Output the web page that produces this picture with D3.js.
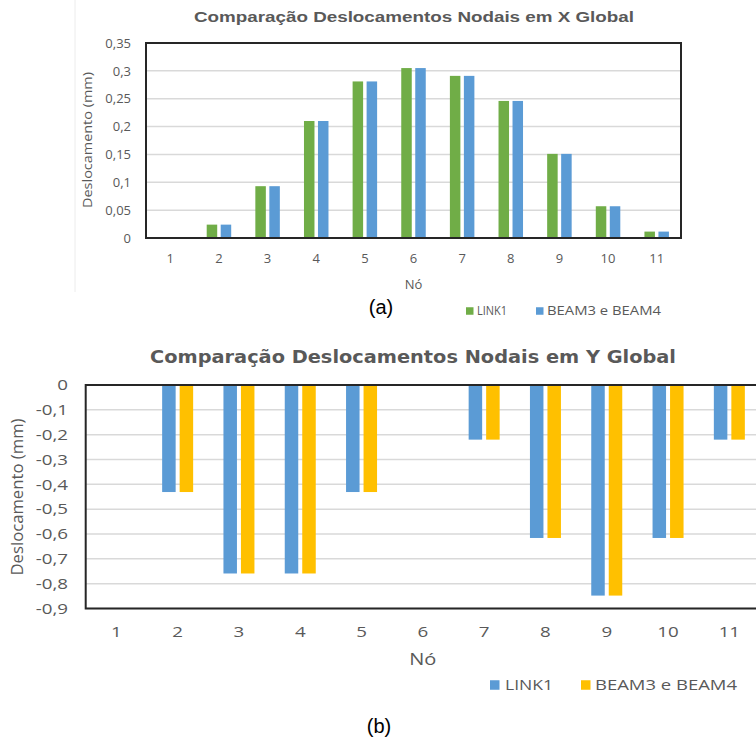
<!DOCTYPE html>
<html>
<head>
<meta charset="utf-8">
<script src="https://cdn.jsdelivr.net/npm/d3@7"></script>
<style>
  html, body { margin: 0; padding: 0; background: #fff; }
  svg { display: block; }
  text { font-family: "Open Sans", "Liberation Sans", sans-serif; }
</style>
</head>
<body>
<svg id="chart" width="756" height="740"></svg>
<script>
// ---------- DATA ----------
const nodes = ["1","2","3","4","5","6","7","8","9","10","11"];
const seriesA = ["LINK1", "BEAM3 e BEAM4"];
const xLink1 = [0, 0.024, 0.093, 0.210, 0.281, 0.305, 0.291, 0.246, 0.151, 0.057, 0.0115];
const xBeam  = [0, 0.024, 0.093, 0.210, 0.281, 0.305, 0.291, 0.246, 0.151, 0.057, 0.0115];
const yLink1 = [0, -0.431, -0.759, -0.759, -0.431, 0, -0.22, -0.616, -0.848, -0.616, -0.22];
const yBeam  = [0, -0.431, -0.759, -0.759, -0.431, 0, -0.22, -0.616, -0.848, -0.616, -0.22];
const xTicks = [0, 0.05, 0.1, 0.15, 0.2, 0.25, 0.3, 0.35];
const yTicks = [0, -0.1, -0.2, -0.3, -0.4, -0.5, -0.6, -0.7, -0.8, -0.9];
const titleA = "Comparação Deslocamentos Nodais em X Global";
const titleB = "Comparação Deslocamentos Nodais em Y Global";
const axisTitleY = "Deslocamento (mm)";
const axisTitleX = "Nó";
const colorsA = ["#70AD47", "#5B9BD5"];
const colorsB = ["#5B9BD5", "#FFC000"];

const svg = d3.select("#chart");
svg.append("rect").attr("width", 756).attr("height", 740).attr("fill", "#fff");
const fmt = d => { const s = String(+d.toFixed(2)).replace(".", ","); return s === "-0" ? "0" : s; };
const TXT = "#595959";

function stretch(sel, k) {
  if (k === 1) return;
  sel.each(function () {
    const w = this.getComputedTextLength();
    d3.select(this).attr("textLength", w * k).attr("lengthAdjust", "spacingAndGlyphs");
  });
}

function panel(cfg) {
  const g = svg.append("g");
  const x0 = d3.scaleBand().domain(nodes).range([cfg.left, cfg.right]).paddingInner(0).paddingOuter(0);
  const x1 = d3.scaleBand().domain([0, 1]).range([-cfg.group / 2, cfg.group / 2]).paddingInner(cfg.pad).paddingOuter(0);
  const y = d3.scaleLinear().domain(cfg.domain).range([cfg.bottom, cfg.top]);

  // gridlines
  g.append("g").selectAll("line").data(cfg.ticks).join("line")
    .attr("x1", cfg.left).attr("x2", cfg.right)
    .attr("y1", d => y(d)).attr("y2", d => y(d))
    .attr("stroke", "#d9d9d9").attr("stroke-width", 1.5);

  // bars
  const data = [];
  cfg.series.forEach((arr, si) => arr.forEach((v, i) => data.push({node: nodes[i], v, si})));
  g.append("g").selectAll("rect").data(data).join("rect")
    .attr("x", d => x0(d.node) + x0.bandwidth() / 2 + x1(d.si))
    .attr("width", x1.bandwidth())
    .attr("y", d => Math.min(y(d.v), y(0)))
    .attr("height", d => Math.abs(y(d.v) - y(0)))
    .attr("fill", d => cfg.colors[d.si]);

  // frame
  g.append("rect").attr("x", cfg.left).attr("y", cfg.top)
    .attr("width", cfg.right - cfg.left).attr("height", cfg.bottom - cfg.top)
    .attr("fill", "none").attr("stroke", "#262626").attr("stroke-width", 2);

  // y axis
  const ya = g.append("g").attr("transform", `translate(${cfg.yLabelX},0)`)
    .call(d3.axisLeft(y).tickValues(cfg.ticks).tickSize(0).tickPadding(0).tickFormat(fmt));
  ya.select(".domain").remove();
  ya.selectAll("text").attr("fill", TXT).style("font-size", cfg.tickFont + "px")
    .style("font-family", '"Open Sans", sans-serif');
  stretch(ya.selectAll("text"), cfg.k);

  // x axis labels
  const xa = g.append("g").attr("transform", `translate(0,${cfg.xLabelY})`)
    .call(d3.axisBottom(x0).tickSize(0).tickPadding(0));
  xa.select(".domain").remove();
  xa.selectAll("text").attr("fill", TXT).attr("dy", 0).style("font-size", cfg.tickFont + "px")
    .style("font-family", '"Open Sans", sans-serif');
  stretch(xa.selectAll("text"), cfg.k);

  // titles
  g.append("text").attr("x", cfg.titleX).attr("y", cfg.titleY).attr("text-anchor", "middle")
    .attr("fill", TXT).style("font-weight", "bold").style("font-size", cfg.titleFont + "px")
    .style("font-family", cfg.titleFamily)
    .attr("textLength", cfg.titleLen).attr("lengthAdjust", "spacingAndGlyphs").text(cfg.title);
  g.append("text").attr("transform", `translate(${cfg.yTitleX},${cfg.yTitleY}) rotate(-90)`)
    .attr("text-anchor", "middle").attr("dy", "0.35em").attr("fill", TXT)
    .style("font-size", cfg.yTitleFont + "px")
    .attr("textLength", cfg.yTitleLen).attr("lengthAdjust", "spacingAndGlyphs").text(axisTitleY);
  const xt = g.append("text").attr("x", (cfg.left + Math.min(cfg.right, 761)) / 2).attr("y", cfg.xTitleY)
    .attr("text-anchor", "middle").attr("fill", TXT).style("font-size", cfg.xTitleFont + "px").text(axisTitleX);
  stretch(xt, cfg.k);

  // legend
  cfg.legend.forEach((L, i) => {
    g.append("rect").attr("x", L.sx).attr("y", cfg.legY - L.ss / 2).attr("width", L.ss).attr("height", L.ss)
      .attr("fill", cfg.colors[i]);
    g.append("text").attr("x", L.tx).attr("y", cfg.legY).attr("dy", "0.36em").attr("fill", TXT)
      .style("font-size", cfg.legFont + "px")
      .attr("textLength", L.tl).attr("lengthAdjust", "spacingAndGlyphs").text(seriesA[i]);
  });

  // caption
  g.append("text").attr("x", cfg.capX).attr("y", cfg.capY).attr("text-anchor", "middle")
    .attr("fill", "#000").style("font-family", '"Liberation Sans", Arial, sans-serif')
    .style("font-size", "20px").text(cfg.caption);
}

// faint image edge of panel (a)
svg.append("line").attr("x1", 75).attr("x2", 75).attr("y1", 0).attr("y2", 292)
  .attr("stroke", "#ececec").attr("stroke-width", 1);

panel({
  left: 146, right: 681, top: 43, bottom: 238, domain: [0, 0.35], ticks: xTicks,
  group: 24.5, pad: 0.25, series: [xLink1, xBeam], colors: colorsA, k: 1,
  yLabelX: 131, tickFont: 13, xLabelY: 263,
  title: titleA, titleX: 414, titleY: 22, titleFont: 14, titleLen: 440,
  titleFamily: '"Liberation Sans", Arial, sans-serif',
  yTitleX: 87, yTitleY: 140, yTitleFont: 13.5, yTitleLen: 136,
  xTitleY: 289, xTitleFont: 13,
  legY: 311, legFont: 12,
  legend: [{sx: 466, ss: 7.5, tx: 477, tl: 30}, {sx: 536, ss: 7.5, tx: 547, tl: 114}],
  caption: "(a)", capX: 381, capY: 314
});

panel({
  left: 85.7, right: 760, top: 385, bottom: 608.5, domain: [-0.9, 0], ticks: yTicks,
  group: 31, pad: 4 / 17.5, series: [yLink1, yBeam], colors: colorsB, k: 1.25,
  yLabelX: 68, tickFont: 15, xLabelY: 637,
  title: titleB, titleX: 413, titleY: 363, titleFont: 18, titleLen: 526,
  titleFamily: '"DejaVu Sans", Verdana, sans-serif',
  yTitleX: 17, yTitleY: 497, yTitleFont: 16, yTitleLen: 157,
  xTitleY: 665, xTitleFont: 16,
  legY: 685, legFont: 14,
  legend: [{sx: 490, ss: 9.5, tx: 505, tl: 48}, {sx: 581, ss: 9.5, tx: 595, tl: 142}],
  caption: "(b)", capX: 379, capY: 733
});
</script>
</body>
</html>
